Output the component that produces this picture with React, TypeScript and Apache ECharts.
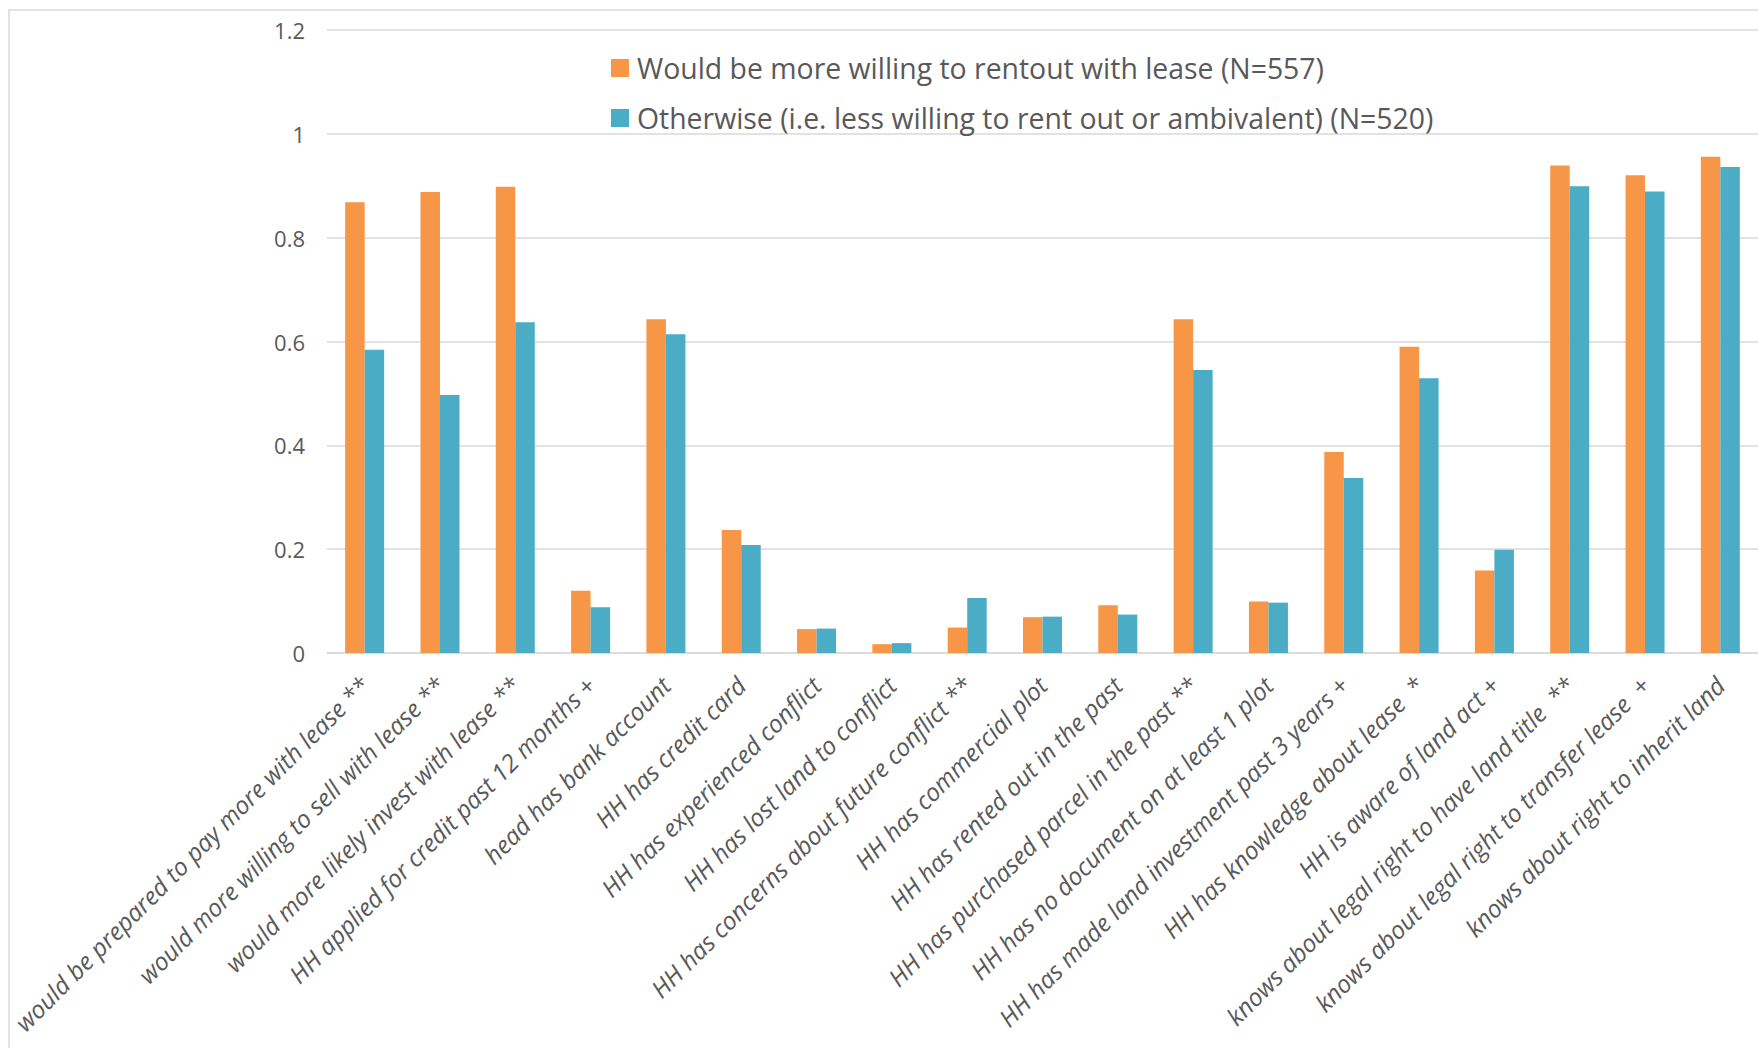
import React, { useEffect, useRef } from "react";
import * as echarts from "echarts";

const categories = [
  "would be prepared to pay more with lease **",
  "would more willing to sell with lease **",
  "would more likely invest with lease **",
  "HH applied for credit past 12 months +",
  "head has bank account",
  "HH has credit card",
  "HH has experienced conflict",
  "HH has lost land to conflict",
  "HH has concerns about future conflict **",
  "HH has commercial plot",
  "HH has rented out in the past",
  "HH has purchased parcel in the past **",
  "HH has no document on at least 1 plot",
  "HH has made land investment past 3 years +",
  "HH has knowledge about lease  *",
  "HH is aware of land act +",
  "knows about legal right to have land title  **",
  "knows about legal right to transfer lease  +",
  "knows about right to inherit land",
];

const willingValues = [
  0.868, 0.888, 0.898, 0.12, 0.643, 0.237, 0.046, 0.017, 0.049, 0.069, 0.092,
  0.643, 0.099, 0.387, 0.59, 0.159, 0.939, 0.92, 0.956,
];

const otherwiseValues = [
  0.584, 0.497, 0.637, 0.088, 0.614, 0.208, 0.047, 0.019, 0.106, 0.07, 0.074,
  0.545, 0.097, 0.337, 0.529, 0.199, 0.899, 0.889, 0.936,
];

const seriesNames = [
  "Would be more willing to rentout with lease (N=557)",
  "Otherwise (i.e. less willing to rent out or ambivalent) (N=520)",
];

const FONT = "Open Sans";
const TEXT = "#595959";
const GRID = "#d9d9d9";

export default function App() {
  const ref = useRef<HTMLDivElement>(null);
  useEffect(() => {
    if (!ref.current) return;
    const chart = echarts.init(ref.current, undefined, { renderer: "svg" });
    chart.setOption({
      animation: false,
      backgroundColor: "#ffffff",
      textStyle: { fontFamily: FONT },
      graphic: [
        {
          type: "rect",
          shape: { x: 9, y: 10, width: 2000, height: 2000 },
          style: { fill: "none", stroke: GRID, lineWidth: 1.5 },
          silent: true,
        },
      ],
      legend: {
        orient: "vertical",
        left: 606,
        top: 46,
        itemWidth: 18,
        itemHeight: 18,
        itemGap: 16,
        icon: "rect",
        textStyle: {
          fontFamily: FONT,
          fontSize: 28.4,
          color: TEXT,
          lineHeight: 34,
          padding: [0, 0, 0, 3],
        },
        data: seriesNames,
      },
      grid: {
        left: 327,
        top: 30,
        width: 1434,
        height: 623,
        containLabel: false,
      },
      xAxis: {
        type: "category",
        data: categories,
        axisLine: { show: true, lineStyle: { color: GRID, width: 1.5 } },
        axisTick: { show: false },
        axisLabel: {
          interval: 0,
          rotate: 45,
          fontStyle: "italic",
          fontFamily: FONT,
          fontSize: 24.5,
          color: TEXT,
          margin: 28,
        },
      },
      yAxis: {
        type: "value",
        min: 0,
        max: 1.2,
        interval: 0.2,
        axisLine: { show: false },
        axisTick: { show: false },
        splitLine: { lineStyle: { color: GRID, width: 1.5 } },
        axisLabel: {
          fontFamily: FONT,
          fontSize: 22,
          color: TEXT,
          margin: 22,
        },
      },
      series: [
        {
          name: seriesNames[0],
          type: "bar",
          data: willingValues,
          barWidth: 19.5,
          barGap: "0%",
          itemStyle: { color: "#F79646" },
        },
        {
          name: seriesNames[1],
          type: "bar",
          data: otherwiseValues,
          barWidth: 19.5,
          barGap: "0%",
          itemStyle: { color: "#4BACC6" },
        },
      ],
    });
    return () => chart.dispose();
  }, []);
  return (
    <div
      ref={ref}
      style={{ position: "fixed", left: 0, top: 0, width: 1758, height: 1048 }}
    />
  );
}
